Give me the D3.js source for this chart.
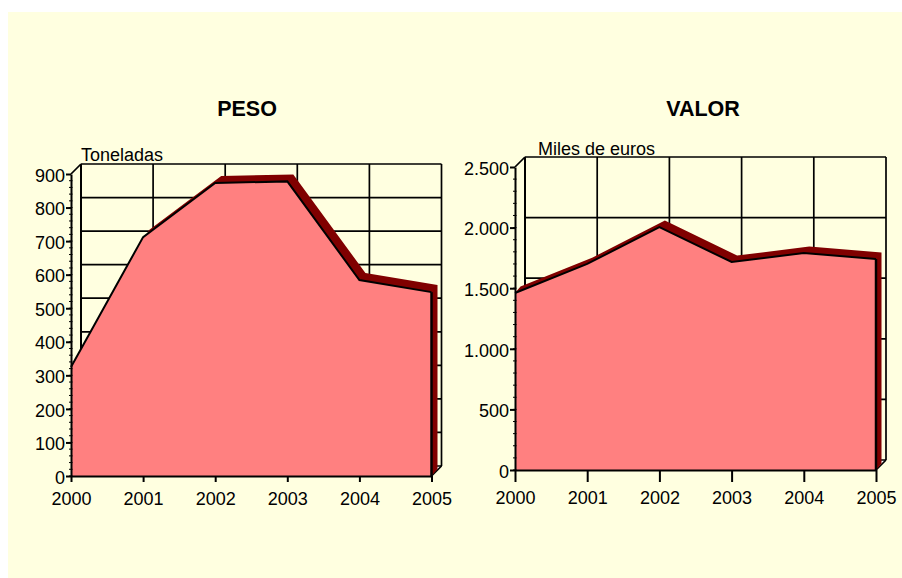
<!DOCTYPE html>
<html>
<head>
<meta charset="utf-8">
<script src="https://cdn.jsdelivr.net/npm/d3@7"></script>
<style>
  html, body { margin: 0; padding: 0; background: #fff; }
  text { font-family: "Liberation Sans", Arial, sans-serif; fill: #000; }
</style>
</head>
<body>
<div id="chart"></div>
<script>
// values
var years = [2000, 2001, 2002, 2003, 2004, 2005];
var pesoValues = [325, 712, 873, 878, 584, 548];
var valorValues = [1460, 1700, 2005, 1716, 1790, 1741];
var pesoTicks = [0, 100, 200, 300, 400, 500, 600, 700, 800, 900];
var valorTicks = [0, 500, 1000, 1500, 2000, 2500];

var svg = d3.select("#chart")
    .append("svg")
    .attr("width", 902)
    .attr("height", 578)
    .style("display", "block");

// yellow panel behind both charts
svg.append("rect")
    .attr("x", 8)
    .attr("y", 12)
    .attr("width", 894)
    .attr("height", 566)
    .attr("fill", "#ffffe0");

var es = d3.formatLocale({decimal: ",", thousands: ".", grouping: [3], currency: ["", "€"]});

function drawChart(opts) {
    var x = d3.scaleLinear().domain([2000, 2005]).range([opts.left, opts.right]);
    var y = d3.scaleLinear().domain([0, opts.max]).range([opts.bottom, opts.top]);
    var g = svg.append("g");
    var wall = 10;
    var x0 = x(2000), x1 = x(2005), y0 = y(0), y1 = y(opts.max);

    // white floor
    g.append("polygon")
        .attr("points", [[x0, y0], [x1, y0], [x1 + wall, y0 - wall], [x0 + wall, y0 - wall]].join(" "))
        .attr("fill", "#fff");

    // back wall grid
    var grid = g.append("g").attr("stroke", "#000").attr("stroke-width", 1.7);
    opts.ticks.forEach(function (t) {
        grid.append("line")
            .attr("x1", x0 + wall).attr("x2", x1 + wall)
            .attr("y1", y(t) - wall).attr("y2", y(t) - wall);
    });
    years.forEach(function (yr) {
        grid.append("line")
            .attr("x1", x(yr) + wall).attr("x2", x(yr) + wall)
            .attr("y1", y1 - wall).attr("y2", y0 - wall)
            .attr("stroke-width", yr == 2000 ? 2 : 1.7);
    });
    grid.append("line")
        .attr("x1", x0).attr("y1", y1)
        .attr("x2", x0 + wall).attr("y2", y1 - wall);
    grid.append("line")
        .attr("x1", x1).attr("y1", y0)
        .attr("x2", x1 + wall).attr("y2", y0 - wall);

    // dark red depth of the area: top strip and right side, one shape so no seams
    var front = opts.values.map(function (v, i) { return [x(years[i]), y(v)]; });
    var back = front.map(function (p) { return [p[0] + opts.dx, p[1] - opts.dy]; }).reverse();
    g.append("polygon")
        .attr("points", front.concat([[x1, y0], [x1 + opts.dx, y0 - opts.dy]], back).join(" "))
        .attr("fill", "#800000");

    // front face
    var area = d3.area()
        .x(function (d, i) { return x(years[i]); })
        .y0(y0)
        .y1(function (d) { return y(d); });
    g.append("path")
        .datum(opts.values)
        .attr("d", area)
        .attr("fill", "#ff8080");

    var line = d3.line()
        .x(function (d, i) { return x(years[i]); })
        .y(function (d) { return y(d); });
    g.append("path")
        .datum(opts.values)
        .attr("d", line)
        .attr("fill", "none")
        .attr("stroke", "#000")
        .attr("stroke-width", 2);
    g.append("line")
        .attr("x1", x1).attr("x2", x1)
        .attr("y1", y(opts.values[opts.values.length - 1])).attr("y2", y0)
        .attr("stroke", "#000")
        .attr("stroke-width", 2.5);

    // axes
    var xAxis = g.append("g")
        .attr("transform", "translate(0," + y0 + ")")
        .call(d3.axisBottom(x).tickValues(years).tickFormat(d3.format("d")).tickSize(opts.xTick).tickSizeOuter(0).tickPadding(opts.xPad));
    var yAxis = g.append("g")
        .attr("transform", "translate(" + x0 + ",0)")
        .call(d3.axisLeft(y).tickValues(opts.ticks).tickFormat(es.format(",d")).tickSize(5).tickSizeOuter(0).tickPadding(1));
    yAxis.selectAll("text").attr("dy", "0.4em");

    // little minor ticks on the value axis
    var step = opts.ticks[1] - opts.ticks[0];
    var minor = d3.range(0, opts.max, step / opts.minor);
    g.append("g").selectAll("line")
        .data(minor)
        .enter()
        .append("line")
        .attr("x1", x0 - 2).attr("x2", x0 + 1.5)
        .attr("y1", function (d) { return y(d); })
        .attr("y2", function (d) { return y(d); })
        .attr("stroke", "#000")
        .attr("stroke-width", 1);

    [xAxis, yAxis].forEach(function (a) {
        a.selectAll("path").attr("stroke", "#000").attr("stroke-width", 2);
        a.selectAll("line").attr("stroke", "#000").attr("stroke-width", 2);
        a.selectAll("text").style("font-size", "18px")
            .style("font-family", '"Liberation Sans", Arial, sans-serif').attr("fill", "#000");
    });

    // titles
    g.append("text")
        .attr("x", opts.titleX).attr("y", 115.5)
        .attr("text-anchor", "middle")
        .style("font-size", "21.5px")
        .style("font-weight", "bold")
        .text(opts.title);
    g.append("text")
        .attr("x", opts.unitX).attr("y", opts.unitY)
        .style("font-size", "18px")
        .text(opts.unit);
}

drawChart({
    title: "PESO", unit: "Toneladas", values: pesoValues, ticks: pesoTicks, max: 900, minor: 5,
    left: 71, right: 431.5, top: 174, bottom: 476,
    dx: 6, dy: 7, xTick: 6, xPad: 10,
    titleX: 247, unitX: 81, unitY: 161
});
drawChart({
    title: "VALOR", unit: "Miles de euros", values: valorValues, ticks: valorTicks, max: 2500, minor: 5,
    left: 515, right: 876, top: 167, bottom: 470,
    dx: 5.5, dy: 6.5, xTick: 12, xPad: 9,
    titleX: 703, unitX: 538, unitY: 155
});
</script>
</body>
</html>
